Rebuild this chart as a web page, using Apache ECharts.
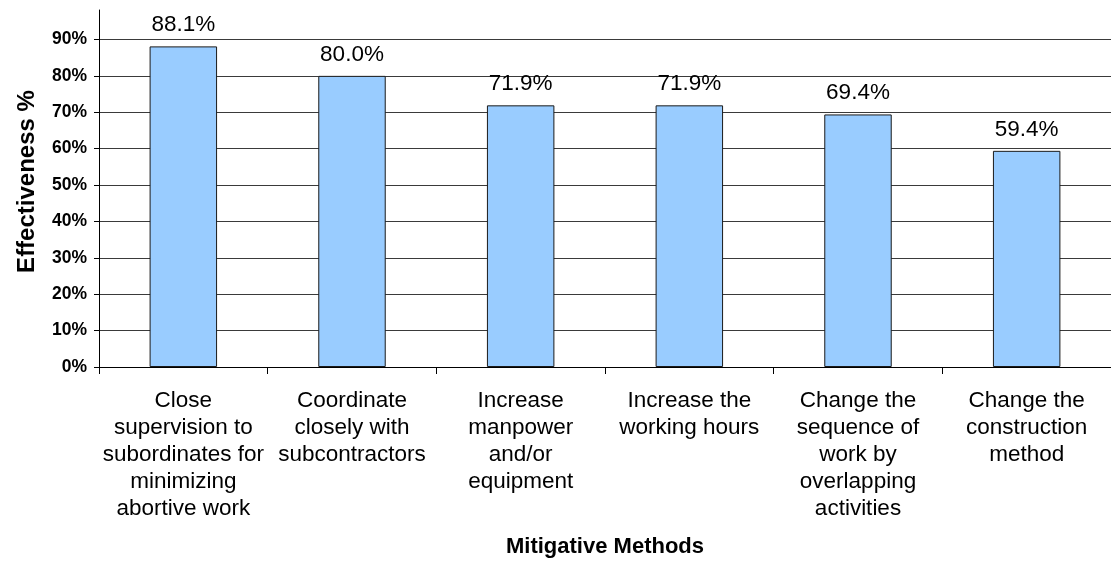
<!DOCTYPE html>
<html>
<head>
<meta charset="utf-8">
<script src="https://cdn.jsdelivr.net/npm/echarts@6/dist/echarts.min.js"></script>
<style>
  html, body { margin: 0; padding: 0; background: #ffffff; }
  #chart { width: 1111px; height: 563px; }
</style>
</head>
<body>
<div id="chart"></div>
<script>
// Mitigative methods and their rated effectiveness (%)
const methods = [
  'Close\nsupervision to\nsubordinates for\nminimizing\nabortive work',
  'Coordinate\nclosely with\nsubcontractors',
  'Increase\nmanpower\nand/or\nequipment',
  'Increase the\nworking hours',
  'Change the\nsequence of\nwork by\noverlapping\nactivities',
  'Change the\nconstruction\nmethod'
];
const effectiveness = [88.1, 80.0, 71.9, 71.9, 69.4, 59.4];

// Value axis: ticks every 10% up to 90%; the axis line itself runs a bit higher
const yMin = 0;
const yMax = 90;
const yStep = 10;
const axisLineTop = 98;

const FONT = 'Liberation Sans, Arial, sans-serif';

// Plot area (the last category runs slightly past the right edge of the canvas)
const plotLeft = 99, plotWidth = 1020, plotTop = 10, plotBottom = 192;
const plotHeight = 563 - plotTop - plotBottom;
const valueTop = 563 - plotBottom - (yMax / axisLineTop) * plotHeight;

const chart = echarts.init(document.getElementById('chart'), null, { renderer: 'canvas' });

chart.setOption({
  backgroundColor: '#ffffff',
  animation: false,
  grid: [
    // tall grid carrying the extended vertical axis line and its title
    { left: plotLeft, width: plotWidth, top: plotTop, bottom: plotBottom, containLabel: false },
    // main grid with the bars, gridlines and tick labels
    { left: plotLeft, width: plotWidth, top: valueTop, bottom: plotBottom, containLabel: false }
  ],
  xAxis: [
    { type: 'category', gridIndex: 0, data: methods, show: false },
    {
      type: 'category',
      gridIndex: 1,
      data: methods,
      boundaryGap: true,
      axisLine: { show: true, lineStyle: { color: '#000000', width: 1 } },
      axisTick: { show: true, length: 7, lineStyle: { color: '#000000' } },
      axisLabel: {
        interval: 0,
        margin: 20,
        fontFamily: FONT,
        fontSize: 22.5,
        lineHeight: 27,
        color: '#000000',
        align: 'center'
      },
      name: 'Mitigative Methods',
      nameLocation: 'middle',
      nameGap: 169,
      nameTextStyle: {
        fontFamily: FONT,
        fontSize: 22,
        fontWeight: 'bold',
        color: '#000000'
      }
    }
  ],
  yAxis: [
    {
      type: 'value',
      gridIndex: 0,
      min: yMin,
      max: axisLineTop,
      axisLine: { show: true, lineStyle: { color: '#000000', width: 1 } },
      axisTick: { show: false },
      axisLabel: { show: false },
      splitLine: { show: false },
      name: 'Effectiveness %',
      nameLocation: 'middle',
      nameGap: 60,
      nameRotate: 90,
      nameTextStyle: {
        fontFamily: FONT,
        fontSize: 24,
        fontWeight: 'bold',
        color: '#000000',
        padding: [0, 0, 0, 18]
      }
    },
    {
      type: 'value',
      gridIndex: 1,
      min: yMin,
      max: yMax,
      interval: yStep,
      axisLine: { show: true, lineStyle: { color: '#000000', width: 1 } },
      axisTick: { show: true, length: 5, lineStyle: { color: '#000000' } },
      axisLabel: {
        margin: 12,
        fontFamily: FONT,
        fontSize: 17.5,
        fontWeight: 'bold',
        color: '#000000',
        formatter: v => v + '%'
      },
      splitLine: { show: true, lineStyle: { color: '#3a3a3a', width: 1 } }
    }
  ],
  series: [
    {
      type: 'bar',
      xAxisIndex: 1,
      yAxisIndex: 1,
      data: effectiveness,
      barWidth: '40%',
      itemStyle: {
        color: '#99CCFF',
        borderColor: '#1a1a1a',
        borderWidth: 1
      },
      label: {
        show: true,
        position: 'top',
        distance: 10,
        fontFamily: FONT,
        fontSize: 22.5,
        color: '#000000',
        formatter: p => p.value.toFixed(1) + '%'
      }
    }
  ]
});
</script>
</body>
</html>
